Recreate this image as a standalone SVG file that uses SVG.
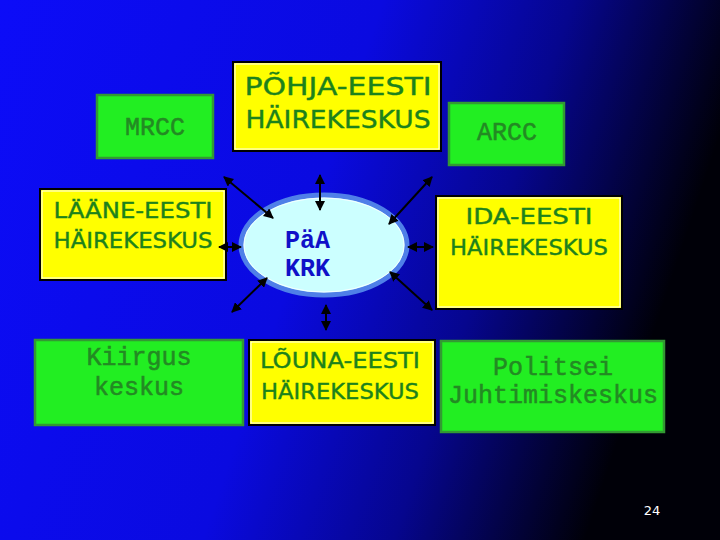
<svg xmlns="http://www.w3.org/2000/svg" width="720" height="540" viewBox="0 0 720 540">
<defs>
<linearGradient id="bg" x1="0" y1="0" x2="1" y2="0.25">
<stop offset="0" stop-color="#0c0cf8"/>
<stop offset="0.5" stop-color="#0a0ae0"/>
<stop offset="0.75" stop-color="#06068e"/>
<stop offset="1" stop-color="#000008"/>
</linearGradient>
<marker id="ah" viewBox="0 0 10 10" refX="9" refY="5" markerWidth="10" markerHeight="10" markerUnits="userSpaceOnUse" orient="auto-start-reverse">
<path d="M0,0 L10,5 L0,10 z" fill="#000"/>
</marker>
<style>
.g{fill:#22ee22;stroke:#339933;stroke-width:2.5}
.y{fill:#ffff00;stroke:#000;stroke-width:2}
.yi{fill:none;stroke:#fff;stroke-width:1}
.cs{font-family:"Comic Sans MS","DejaVu Sans","Liberation Sans",sans-serif;fill:#1c821c;text-anchor:middle;stroke:#1c821c;stroke-width:0.4}
.mono{font-family:"Liberation Mono","Courier New",monospace;fill:#238a23;text-anchor:middle;font-size:25px;stroke:#238a23;stroke-width:0.5}
.ar{stroke:#000;stroke-width:2;fill:none;marker-start:url(#ah);marker-end:url(#ah)}
</style>
</defs>
<rect x="0" y="0" width="720" height="540" fill="url(#bg)"/>

<g id="mrcc">
<rect class="g" x="97" y="95" width="116" height="63"/>
<text class="mono" x="155" y="135" font-size="24">MRCC</text>
</g>

<g id="pohja">
<rect class="y" x="233" y="62" width="208" height="89"/>
<rect class="yi" x="235" y="64" width="204" height="85"/>
<text class="cs" x="338" y="95" font-size="25" textLength="187" lengthAdjust="spacingAndGlyphs">PÕHJA-EESTI</text>
<text class="cs" x="338" y="128" font-size="25" textLength="185" lengthAdjust="spacingAndGlyphs">HÄIREKESKUS</text>
</g>

<g id="arcc">
<rect class="g" x="449" y="103" width="115" height="62"/>
<text class="mono" x="507" y="140" font-size="24">ARCC</text>
</g>

<g id="laane">
<rect class="y" x="40" y="189" width="186" height="91"/>
<rect class="yi" x="42" y="191" width="182" height="87"/>
<text class="cs" x="133" y="218" font-size="22" textLength="159" lengthAdjust="spacingAndGlyphs">LÄÄNE-EESTI</text>
<text class="cs" x="133" y="248" font-size="22" textLength="159" lengthAdjust="spacingAndGlyphs">HÄIREKESKUS</text>
</g>

<g id="paa">
<ellipse cx="324" cy="245" rx="83" ry="50" fill="#ccffff" stroke="#4f7fe8" stroke-width="5"/>
<ellipse cx="324" cy="245" rx="80" ry="47" fill="none" stroke="#ffffff" stroke-width="1" opacity="0.8"/>
<text x="285" y="248" font-family="'Liberation Mono','Courier New',monospace" font-weight="bold" font-size="25" fill="#1010c8">PäA</text>
<text x="285" y="276" font-family="'Liberation Mono','Courier New',monospace" font-weight="bold" font-size="25" fill="#1010c8">KRK</text>
</g>

<g id="ida">
<rect class="y" x="436" y="196" width="186" height="113"/>
<rect class="yi" x="438" y="198" width="182" height="109"/>
<text class="cs" x="529" y="224" font-size="21" textLength="127" lengthAdjust="spacingAndGlyphs">IDA-EESTI</text>
<text class="cs" x="529" y="255" font-size="22" textLength="158" lengthAdjust="spacingAndGlyphs">HÄIREKESKUS</text>
</g>

<g id="kiirgus">
<rect class="g" x="35" y="340" width="208" height="85"/>
<text class="mono" x="139" y="365">Kiirgus</text>
<text class="mono" x="139" y="395">keskus</text>
</g>

<g id="louna">
<rect class="y" x="249" y="340" width="186" height="85"/>
<rect class="yi" x="251" y="342" width="182" height="81"/>
<text class="cs" x="340" y="368" font-size="22" textLength="160" lengthAdjust="spacingAndGlyphs">LÕUNA-EESTI</text>
<text class="cs" x="340" y="399" font-size="22" textLength="158" lengthAdjust="spacingAndGlyphs">HÄIREKESKUS</text>
</g>

<g id="politsei">
<rect class="g" x="441" y="341" width="223" height="91"/>
<text class="mono" x="553" y="375">Politsei</text>
<text class="mono" x="553" y="403">Juhtimiskeskus</text>
</g>

<g id="connectors">
<line class="ar" x1="224" y1="177" x2="273" y2="218"/>
<line class="ar" x1="320" y1="175" x2="320" y2="210"/>
<line class="ar" x1="432" y1="177" x2="389" y2="224"/>
<line class="ar" x1="219" y1="247" x2="241" y2="247"/>
<line class="ar" x1="408" y1="247" x2="433" y2="247"/>
<line class="ar" x1="232" y1="312" x2="267" y2="278"/>
<line class="ar" x1="390" y1="272" x2="432" y2="310"/>
<line class="ar" x1="326" y1="305" x2="326" y2="330"/>
</g>

<text x="652" y="515" font-family="'DejaVu Sans','Liberation Sans',sans-serif" font-size="13" fill="#ffffff" text-anchor="middle">24</text>
</svg>
